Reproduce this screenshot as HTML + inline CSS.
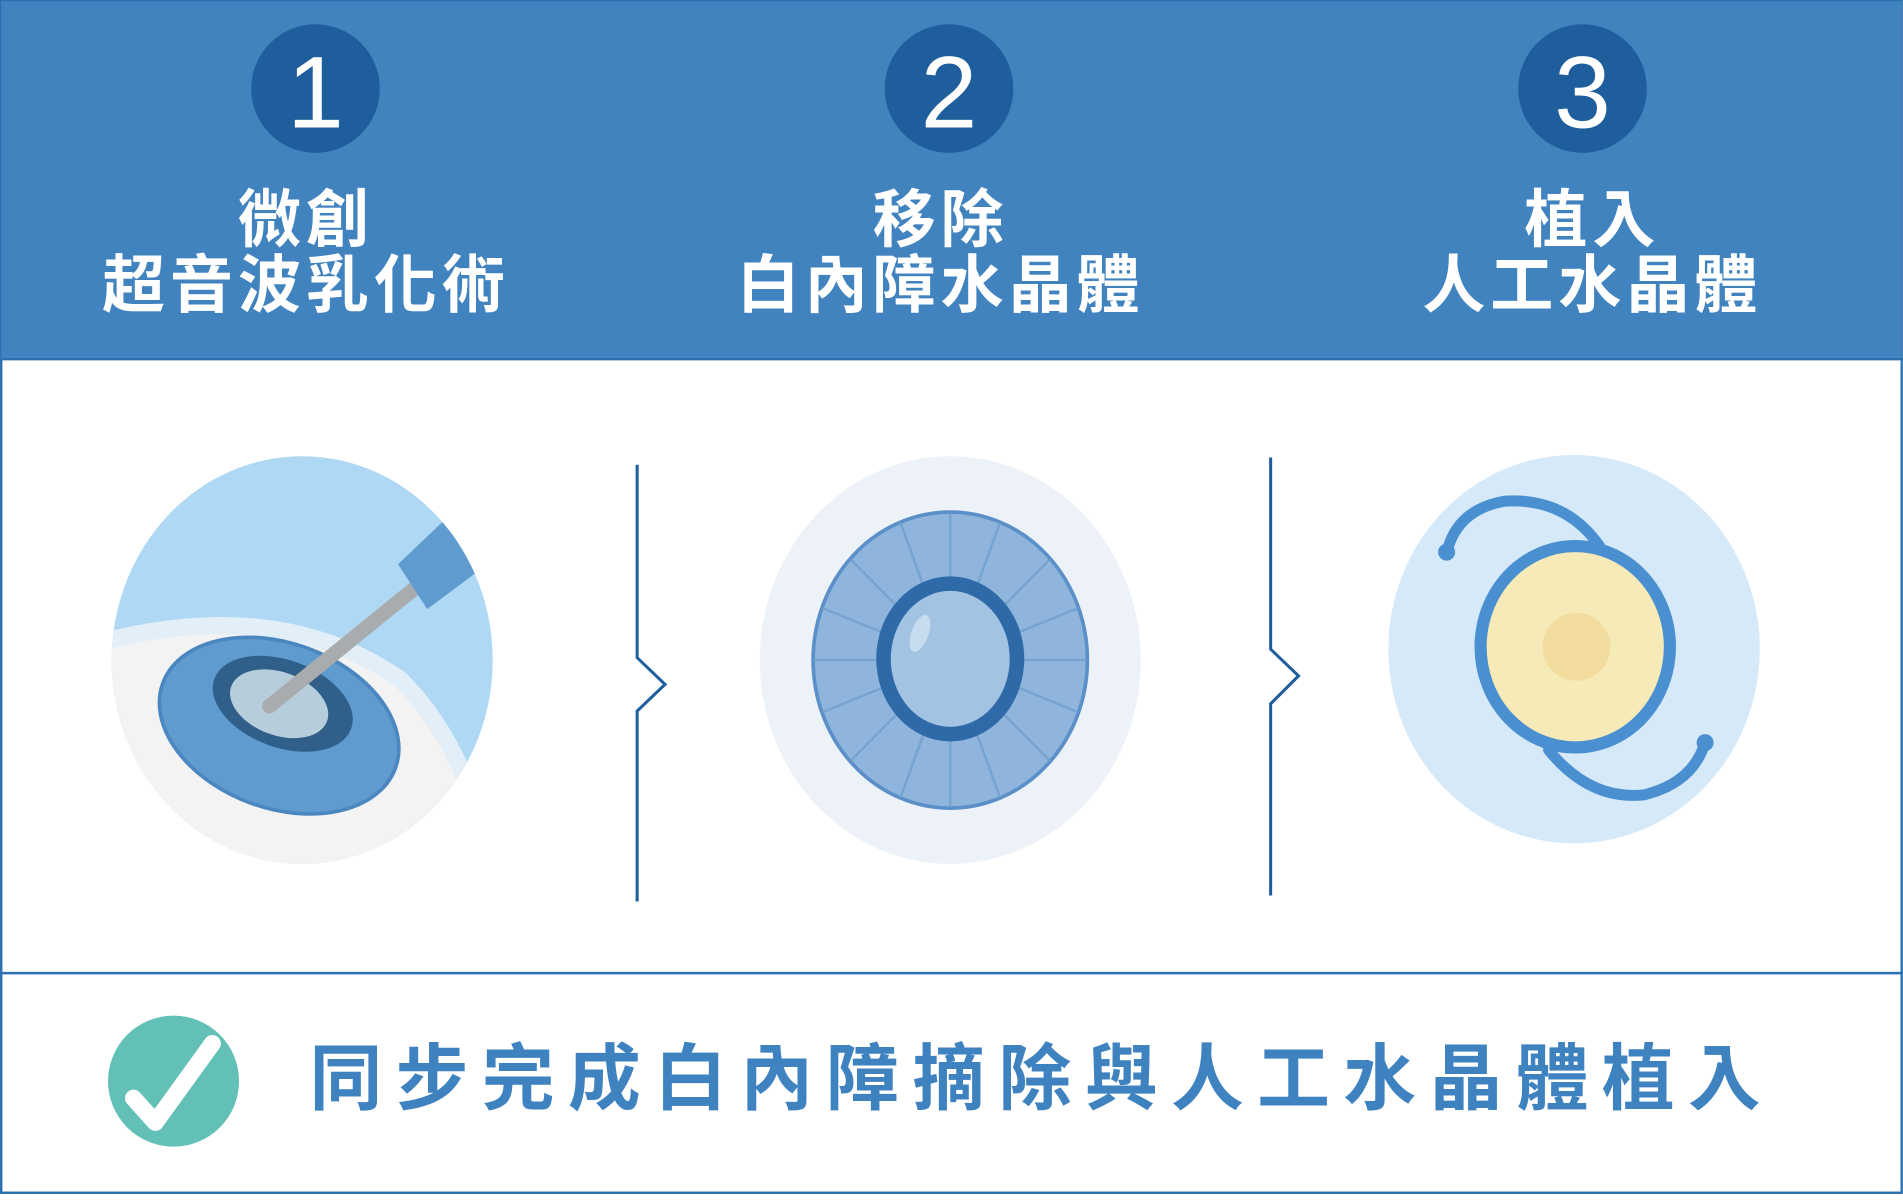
<!DOCTYPE html>
<html><head><meta charset="utf-8"><style>
html,body{margin:0;padding:0;width:1903px;height:1194px;overflow:hidden;background:#fff}
#w{position:absolute;left:0;top:0;width:1568px;height:984px;transform:scale(1.2136,1.2134);transform-origin:0 0}
svg text{font-family:"Liberation Sans","Noto Sans CJK TC",sans-serif}
</style></head><body><div id="w">
<svg width="1568" height="984" viewBox="0 0 1568 984" xmlns="http://www.w3.org/2000/svg">
<defs>
<clipPath id="c1"><ellipse cx="249" cy="544" rx="157" ry="168"/></clipPath>
<clipPath id="ir"><ellipse cx="783" cy="544" rx="113" ry="122"/></clipPath>
</defs>
<rect x="1" y="1" width="1566" height="982" fill="#fff" stroke="#2a6fb0" stroke-width="2"/>
<rect x="1" y="1" width="1566" height="294" fill="#4183bf"/>
<line x1="0" y1="296" x2="1568" y2="296" stroke="#2a6fb0" stroke-width="2"/>
<line x1="0" y1="802" x2="1568" y2="802" stroke="#2a6fb0" stroke-width="2"/>
<g fill="#1f5e9d"><circle cx="260" cy="73" r="53"/><circle cx="782" cy="73" r="53"/><circle cx="1304" cy="73" r="53"/></g>
<g fill="#fff" font-size="84" text-anchor="middle"><text x="260" y="105">1</text><text x="782" y="105">2</text><text x="1304" y="105">3</text></g>
<g fill="#fff" font-size="52" font-weight="bold" text-anchor="middle" letter-spacing="4">
<text x="252" y="199">微創</text><text x="252" y="253">超音波乳化術</text>
<text x="775" y="199">移除</text><text x="775" y="253">白內障水晶體</text>
<text x="1312" y="199">植入</text><text x="1312" y="253">人工水晶體</text>
</g>
<g fill="none" stroke="#1f5e9d" stroke-width="2.5">
<polyline points="525,383 525,542 548,564 525,586 525,743"/>
<polyline points="1047,377 1047,535 1070,557 1047,580 1047,738"/>
</g>
<g clip-path="url(#c1)">
<rect x="80" y="370" width="340" height="350" fill="#aed8f4"/>
<path d="M80 530 Q230 490 330 560 Q370 600 390 660 L420 720 L80 720Z" fill="#f3f3f3"/>
<path d="M80 530 Q230 490 330 560 Q370 600 390 660" fill="none" stroke="#e2eef8" stroke-width="14"/>
<ellipse cx="230" cy="598" rx="102" ry="68" transform="rotate(20 230 598)" fill="#5f9bcf" stroke="#4a86c0" stroke-width="3"/>
<ellipse cx="233" cy="580" rx="60" ry="36" transform="rotate(20 233 580)" fill="#305f8a"/>
<ellipse cx="230" cy="580" rx="42" ry="26" transform="rotate(20 230 580)" fill="#b6cedc"/>
<line x1="222" y1="582" x2="360" y2="470" stroke="#a9acae" stroke-width="12" stroke-linecap="round"/>
<polygon points="328,465 370,425 395,470 352,502" fill="#5f9bcf"/>
</g>
<ellipse cx="783" cy="544" rx="157" ry="168" fill="#edf2f8"/>
<ellipse cx="783" cy="544" rx="113" ry="122" fill="#8fb5dc" stroke="#5a8fc8" stroke-width="3"/>
<g clip-path="url(#ir)" stroke="#6d9ccc" stroke-width="2" opacity=".7">
<line x1="783" y1="420" x2="783" y2="668"/><line x1="670" y1="544" x2="896" y2="544"/>
<line x1="700" y1="460" x2="866" y2="628"/><line x1="866" y1="460" x2="700" y2="628"/>
<line x1="740" y1="425" x2="826" y2="663"/><line x1="826" y1="425" x2="740" y2="663"/>
<line x1="675" y1="500" x2="891" y2="588"/><line x1="891" y1="500" x2="675" y2="588"/>
</g>
<ellipse cx="783" cy="543" rx="55" ry="62" fill="#a3c3e3" stroke="#2f6aa8" stroke-width="12"/>
<ellipse cx="758" cy="522" rx="7" ry="16" transform="rotate(20 758 522)" fill="#c8dcf0"/>
<ellipse cx="1297" cy="535" rx="153" ry="160" fill="#d5e9f8"/>
<path d="M1192 456 Q1200 420 1240 413 Q1290 410 1318 450" fill="none" stroke="#4a8fd0" stroke-width="9" stroke-linecap="round"/>
<circle cx="1192" cy="455" r="7" fill="#4a8fd0"/>
<path d="M1276 618 Q1310 660 1355 655 Q1395 645 1405 612" fill="none" stroke="#4a8fd0" stroke-width="9" stroke-linecap="round"/>
<circle cx="1405" cy="612" r="7" fill="#4a8fd0"/>
<ellipse cx="1298" cy="533" rx="78" ry="83" fill="#f6eab8" stroke="#4a8fd0" stroke-width="10"/>
<circle cx="1299" cy="533" r="28" fill="#f2dd9f"/>
<circle cx="143" cy="891" r="54" fill="#62c0b7"/>
<path d="M110 905 L128 925 L175 860" fill="none" stroke="#fff" stroke-width="14" stroke-linecap="round" stroke-linejoin="round"/>
<text x="255" y="910" font-size="60" font-weight="bold" fill="#3f82c0" letter-spacing="11">同步完成白內障摘除與人工水晶體植入</text>
</svg></div></body></html>
